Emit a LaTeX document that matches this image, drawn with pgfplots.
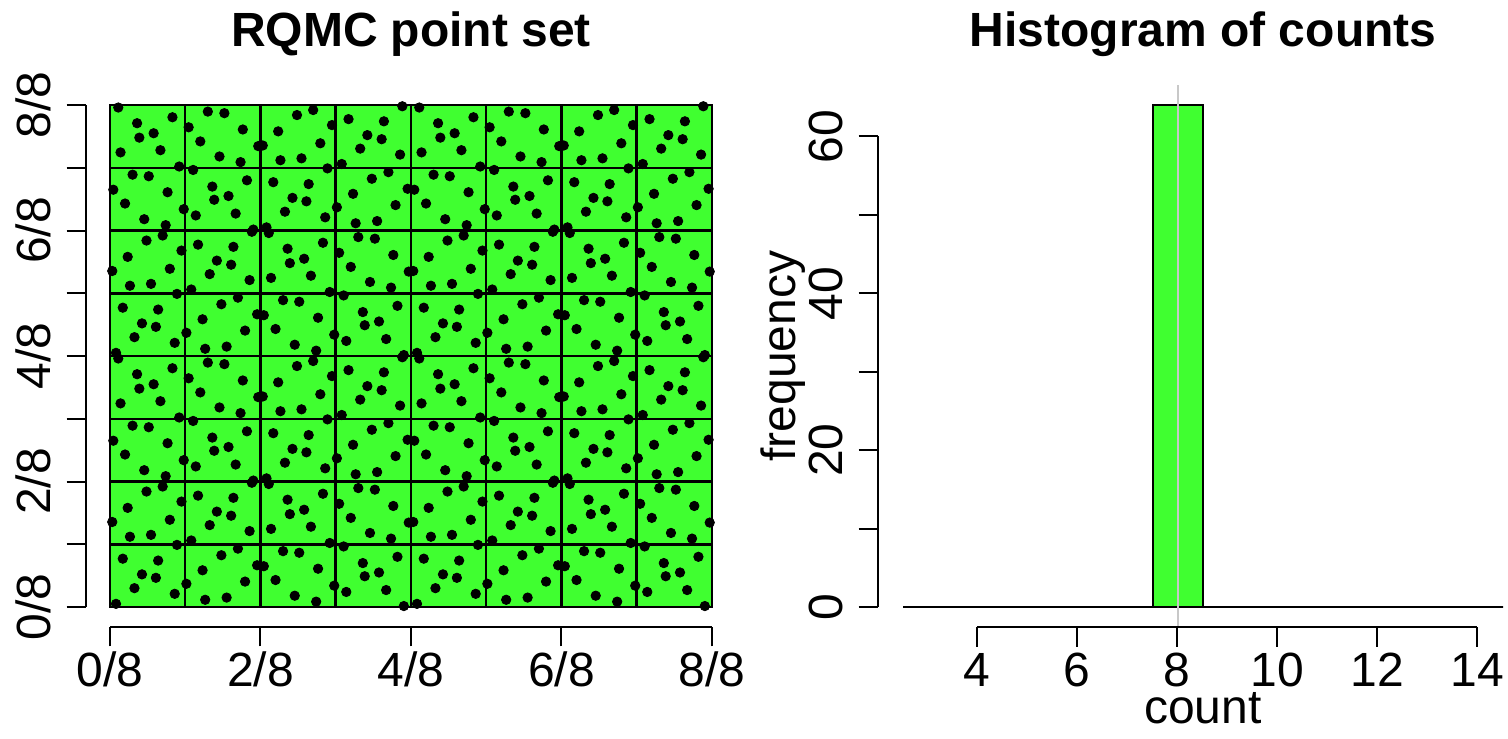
\documentclass[border=0pt]{standalone}
\usepackage{pgfplots}
\pgfplotsset{compat=1.18}
\usepackage{fontspec}
\setmainfont{Liberation Sans}
\definecolor{rgreen}{RGB}{64,255,48}
\definecolor{rgrey}{RGB}{200,200,200}
\newcommand{\bigf}{\fontsize{24}{28}\selectfont}
\begin{document}
\bigf
\begin{tikzpicture}
\pgfplotsset{every tick label/.append style={font=\bigf, inner sep=1pt}, /pgf/number format/assume math mode=true}
% ---------- left panel: point set ----------
\begin{axis}[at={(55pt,65.5pt)}, anchor=south west, scale only axis,
  width=301pt, height=251pt, xmin=0, xmax=8, ymin=0, ymax=8,
  axis background/.style={fill=rgreen},
  xtick={0,...,8}, ytick={0,...,8}, xticklabels={}, yticklabels={},
  major tick length=0pt, grid=major, major grid style={black, line width=1.25pt},
  axis line style={black, line width=1.25pt}, clip=false]
\addplot[only marks, mark=*, mark size=2.35pt, mark options={fill=black, draw=none}] coordinates {
(0.11,7.96) (4.11,7.96) (0.11,3.96) (4.11,3.96) (2.11,1.96) (6.11,1.96) (2.11,5.96) (6.11,5.96)
(0.83,7.805) (4.83,7.805) (0.83,3.805) (4.83,3.805) (2.83,1.805) (6.83,1.805) (2.83,5.805) (6.83,5.805)
(0.36,7.71) (4.36,7.71) (0.36,3.71) (4.36,3.71) (2.36,1.71) (6.36,1.71) (2.36,5.71) (6.36,5.71)
(0.58,7.55) (4.58,7.55) (0.58,3.55) (4.58,3.55) (2.58,1.55) (6.58,1.55) (2.58,5.55) (6.58,5.55)
(0.39,7.48) (4.39,7.48) (0.39,3.48) (4.39,3.48) (2.39,1.48) (6.39,1.48) (2.39,5.48) (6.39,5.48)
(0.67,7.28) (4.67,7.28) (0.67,3.28) (4.67,3.28) (2.67,1.28) (6.67,1.28) (2.67,5.28) (6.67,5.28)
(0.14,7.245) (4.14,7.245) (0.14,3.245) (4.14,3.245) (2.14,1.245) (6.14,1.245) (2.14,5.245) (6.14,5.245)
(0.92,7.02) (4.92,7.02) (0.92,3.02) (4.92,3.02) (2.92,1.02) (6.92,1.02) (2.92,5.02) (6.92,5.02)
(1.30,7.895) (5.30,7.895) (1.30,3.895) (5.30,3.895) (3.30,1.895) (7.30,1.895) (3.30,5.895) (7.30,5.895)
(1.52,7.87) (5.52,7.87) (1.52,3.87) (5.52,3.87) (3.52,1.87) (7.52,1.87) (3.52,5.87) (7.52,5.87)
(1.045,7.645) (5.045,7.645) (1.045,3.645) (5.045,3.645) (3.045,1.645) (7.045,1.645) (3.045,5.645) (7.045,5.645)
(1.765,7.61) (5.765,7.61) (1.765,3.61) (5.765,3.61) (3.765,1.61) (7.765,1.61) (3.765,5.61) (7.765,5.61)
(1.20,7.42) (5.20,7.42) (1.20,3.42) (5.20,3.42) (3.20,1.42) (7.20,1.42) (3.20,5.42) (7.20,5.42)
(1.455,7.18) (5.455,7.18) (1.455,3.18) (5.455,3.18) (3.455,1.18) (7.455,1.18) (3.455,5.18) (7.455,5.18)
(1.735,7.09) (5.735,7.09) (1.735,3.09) (5.735,3.09) (3.735,1.09) (7.735,1.09) (3.735,5.09) (7.735,5.09)
(1.97,7.345) (5.97,7.345) (1.97,3.345) (5.97,3.345) (3.97,1.345) (7.97,1.345) (3.97,5.345) (7.97,5.345)
(2.485,7.84) (6.485,7.84) (2.485,3.84) (6.485,3.84) (4.485,1.84) (0.485,1.84) (4.485,5.84) (0.485,5.84)
(2.70,7.92) (6.70,7.92) (2.70,3.92) (6.70,3.92) (4.70,1.92) (0.70,1.92) (4.70,5.92) (0.70,5.92)
(2.95,7.68) (6.95,7.68) (2.95,3.68) (6.95,3.68) (4.95,1.68) (0.95,1.68) (4.95,5.68) (0.95,5.68)
(2.235,7.58) (6.235,7.58) (2.235,3.58) (6.235,3.58) (4.235,1.58) (0.235,1.58) (4.235,5.58) (0.235,5.58)
(2.795,7.39) (6.795,7.39) (2.795,3.39) (6.795,3.39) (4.795,1.39) (0.795,1.39) (4.795,5.39) (0.795,5.39)
(2.265,7.12) (6.265,7.12) (2.265,3.12) (6.265,3.12) (4.265,1.12) (0.265,1.12) (4.265,5.12) (0.265,5.12)
(2.545,7.15) (6.545,7.15) (2.545,3.15) (6.545,3.15) (4.545,1.15) (0.545,1.15) (4.545,5.15) (0.545,5.15)
(2.03,7.355) (6.03,7.355) (2.03,3.355) (6.03,3.355) (4.03,1.355) (0.03,1.355) (4.03,5.355) (0.03,5.355)
(3.885,7.98) (7.885,7.98) (3.885,3.98) (7.885,3.98) (5.885,1.98) (1.885,1.98) (5.885,5.98) (1.885,5.98)
(3.17,7.775) (7.17,7.775) (3.17,3.775) (7.17,3.775) (5.17,1.775) (1.17,1.775) (5.17,5.775) (1.17,5.775)
(3.64,7.74) (7.64,7.74) (3.64,3.74) (7.64,3.74) (5.64,1.74) (1.64,1.74) (5.64,5.74) (1.64,5.74)
(3.42,7.52) (7.42,7.52) (3.42,3.52) (7.42,3.52) (5.42,1.52) (1.42,1.52) (5.42,5.52) (1.42,5.52)
(3.61,7.455) (7.61,7.455) (3.61,3.455) (7.61,3.455) (5.61,1.455) (1.61,1.455) (5.61,5.455) (1.61,5.455)
(3.325,7.305) (7.325,7.305) (3.325,3.305) (7.325,3.305) (5.325,1.305) (1.325,1.305) (5.325,5.305) (1.325,5.305)
(3.855,7.21) (7.855,7.21) (3.855,3.21) (7.855,3.21) (5.855,1.21) (1.855,1.21) (5.855,5.21) (1.855,5.21)
(3.08,7.06) (7.08,7.06) (3.08,3.06) (7.08,3.06) (5.08,1.06) (1.08,1.06) (5.08,5.06) (1.08,5.06)
(0.30,6.89) (4.30,6.89) (0.30,2.89) (4.30,2.89) (2.30,0.89) (6.30,0.89) (2.30,4.89) (6.30,4.89)
(0.515,6.865) (4.515,6.865) (0.515,2.865) (4.515,2.865) (2.515,0.865) (6.515,0.865) (2.515,4.865) (6.515,4.865)
(0.044,6.65) (4.044,6.65) (0.044,2.65) (4.044,2.65) (2.044,0.65) (6.044,0.65) (2.044,4.65) (6.044,4.65)
(0.765,6.61) (4.765,6.61) (0.765,2.61) (4.765,2.61) (2.765,0.61) (6.765,0.61) (2.765,4.61) (6.765,4.61)
(0.20,6.43) (4.20,6.43) (0.20,2.43) (4.20,2.43) (2.20,0.43) (6.20,0.43) (2.20,4.43) (6.20,4.43)
(0.98,6.34) (4.98,6.34) (0.98,2.34) (4.98,2.34) (2.98,0.34) (6.98,0.34) (2.98,4.34) (6.98,4.34)
(0.455,6.18) (4.455,6.18) (0.455,2.18) (4.455,2.18) (2.455,0.18) (6.455,0.18) (2.455,4.18) (6.455,4.18)
(0.74,6.085) (4.74,6.085) (0.74,2.085) (4.74,2.085) (2.74,0.085) (6.74,0.085) (2.74,4.085) (6.74,4.085)
(1.105,6.965) (5.105,6.965) (1.105,2.965) (5.105,2.965) (3.105,0.965) (7.105,0.965) (3.105,4.965) (7.105,4.965)
(1.82,6.80) (5.82,6.80) (1.82,2.80) (5.82,2.80) (3.82,0.80) (7.82,0.80) (3.82,4.80) (7.82,4.80)
(1.36,6.70) (5.36,6.70) (1.36,2.70) (5.36,2.70) (3.36,0.70) (7.36,0.70) (3.36,4.70) (7.36,4.70)
(1.575,6.55) (5.575,6.55) (1.575,2.55) (5.575,2.55) (3.575,0.55) (7.575,0.55) (3.575,4.55) (7.575,4.55)
(1.385,6.49) (5.385,6.49) (1.385,2.49) (5.385,2.49) (3.385,0.49) (7.385,0.49) (3.385,4.49) (7.385,4.49)
(1.14,6.24) (5.14,6.24) (1.14,2.24) (5.14,2.24) (3.14,0.24) (7.14,0.24) (3.14,4.24) (7.14,4.24)
(1.67,6.27) (5.67,6.27) (1.67,2.27) (5.67,2.27) (3.67,0.27) (7.67,0.27) (3.67,4.27) (7.67,4.27)
(1.905,6.015) (5.905,6.015) (1.905,2.015) (5.905,2.015) (3.905,0.015) (7.905,0.015) (3.905,4.015) (7.905,4.015)
(2.08,6.05) (6.08,6.05) (2.08,2.05) (6.08,2.05) (4.08,0.05) (0.08,0.05) (4.08,4.05) (0.08,4.05)
(2.17,6.77) (6.17,6.77) (2.17,2.77) (6.17,2.77) (4.17,0.77) (0.17,0.77) (4.17,4.77) (0.17,4.77)
(2.64,6.74) (6.64,6.74) (2.64,2.74) (6.64,2.74) (4.64,0.74) (0.64,0.74) (4.64,4.74) (0.64,4.74)
(2.425,6.52) (6.425,6.52) (2.425,2.52) (6.425,2.52) (4.425,0.52) (0.425,0.52) (4.425,4.52) (0.425,4.52)
(2.61,6.465) (6.61,6.465) (2.61,2.465) (6.61,2.465) (4.61,0.465) (0.61,0.465) (4.61,4.465) (0.61,4.465)
(2.325,6.30) (6.325,6.30) (2.325,2.30) (6.325,2.30) (4.325,0.30) (0.325,0.30) (4.325,4.30) (0.325,4.30)
(2.86,6.21) (6.86,6.21) (2.86,2.21) (6.86,2.21) (4.86,0.21) (0.86,0.21) (4.86,4.21) (0.86,4.21)
(2.89,6.99) (6.89,6.99) (2.89,2.99) (6.89,2.99) (4.89,0.99) (0.89,0.99) (4.89,4.99) (0.89,4.99)
(3.015,6.37) (7.015,6.37) (3.015,2.37) (7.015,2.37) (5.015,0.37) (1.015,0.37) (5.015,4.37) (1.015,4.37)
(3.70,6.93) (7.70,6.93) (3.70,2.93) (7.70,2.93) (5.70,0.93) (1.70,0.93) (5.70,4.93) (1.70,4.93)
(3.48,6.825) (7.48,6.825) (3.48,2.825) (7.48,2.825) (5.48,0.825) (1.48,0.825) (5.48,4.825) (1.48,4.825)
(3.23,6.585) (7.23,6.585) (3.23,2.585) (7.23,2.585) (5.23,0.585) (1.23,0.585) (5.23,4.585) (1.23,4.585)
(3.955,6.665) (7.955,6.665) (3.955,2.665) (7.955,2.665) (5.955,0.665) (1.955,0.665) (5.955,4.665) (1.955,4.665)
(3.795,6.405) (7.795,6.405) (3.795,2.405) (7.795,2.405) (5.795,0.405) (1.795,0.405) (5.795,4.405) (1.795,4.405)
(3.265,6.115) (7.265,6.115) (3.265,2.115) (7.265,2.115) (5.265,0.115) (1.265,0.115) (5.265,4.115) (1.265,4.115)
(3.55,6.15) (7.55,6.15) (3.55,2.15) (7.55,2.15) (5.55,0.15) (1.55,0.15) (5.55,4.15) (1.55,4.15)
};
\end{axis}
% left panel R-style axes
\begin{axis}[at={(55pt,65.5pt)}, anchor=south west, scale only axis,
  width=301pt, height=251pt, xmin=0, xmax=8, ymin=0, ymax=8,
  axis x line*=bottom, axis y line*=left,
  axis x line shift=10pt, axis y line shift=12pt,
  axis line style={-, black, line width=1pt},
  tick align=outside, major tick length=9.75pt, minor tick length=9.75pt,
  tick style={black, line width=1pt},
  xtick={0,2,4,6,8}, xticklabels={0/8,2/8,4/8,6/8,8/8},
  ytick={0,2,4,6,8}, yticklabels={0/8,2/8,4/8,6/8,8/8}, minor ytick={1,3,5,7},
  xticklabel shift=20pt, yticklabel shift=8pt,
  xticklabel style={anchor=base}, yticklabel style={rotate=90, anchor=base}]
\end{axis}
% ---------- right panel: histogram ----------
\begin{axis}[at={(451.5pt,65.5pt)}, anchor=south west, scale only axis,
  width=300pt, height=251pt, xmin=2.5, xmax=14.5, ymin=0, ymax=64,
  hide axis, clip=false]
\addplot[ybar interval, fill=rgreen, draw=black, line width=1.1pt] coordinates {
(2.5,0) (3.5,0) (4.5,0) (5.5,0) (6.5,0) (7.5,64) (8.5,0) (9.5,0) (10.5,0) (11.5,0) (12.5,0) (13.5,0) (14.5,0)};
\addplot[rgrey, line width=1.3pt] coordinates {(8,-2.56) (8,66.56)};
\end{axis}
\begin{axis}[at={(488.5pt,65.5pt)}, anchor=south west, scale only axis,
  width=250pt, height=235.26pt, xmin=4, xmax=14, ymin=0, ymax=60,
  axis x line*=bottom, axis y line*=left,
  axis x line shift=10pt, axis y line shift=49.5pt,
  axis line style={-, black, line width=1pt},
  tick align=outside, major tick length=9.75pt, minor tick length=9.75pt,
  tick style={black, line width=1pt},
  xtick={4,6,8,10,12,14}, xticklabels={4,6,8,10,12,14},
  ytick={0,20,40,60}, yticklabels={0,20,40,60}, minor ytick={10,30,50},
  xticklabel shift=20pt, yticklabel shift=8pt,
  xticklabel style={anchor=base}, yticklabel style={rotate=90, anchor=base}]
\end{axis}
% titles and labels
\node[anchor=base, font=\bfseries\bigf] at (205.5pt,345.5pt) {RQMC point set};
\node[anchor=base, font=\bfseries\bigf] at (601.5pt,345.5pt) {Histogram of counts};
\node[anchor=base, font=\bigf, inner sep=0pt] at (601.5pt,7.5pt) {count};
\node[anchor=base, rotate=90, font=\bigf] at (397.5pt,191pt) {frequency};
\pgfresetboundingbox
\path[use as bounding box] (0pt,0pt) rectangle (754pt,369pt);
\end{tikzpicture}
\end{document}
